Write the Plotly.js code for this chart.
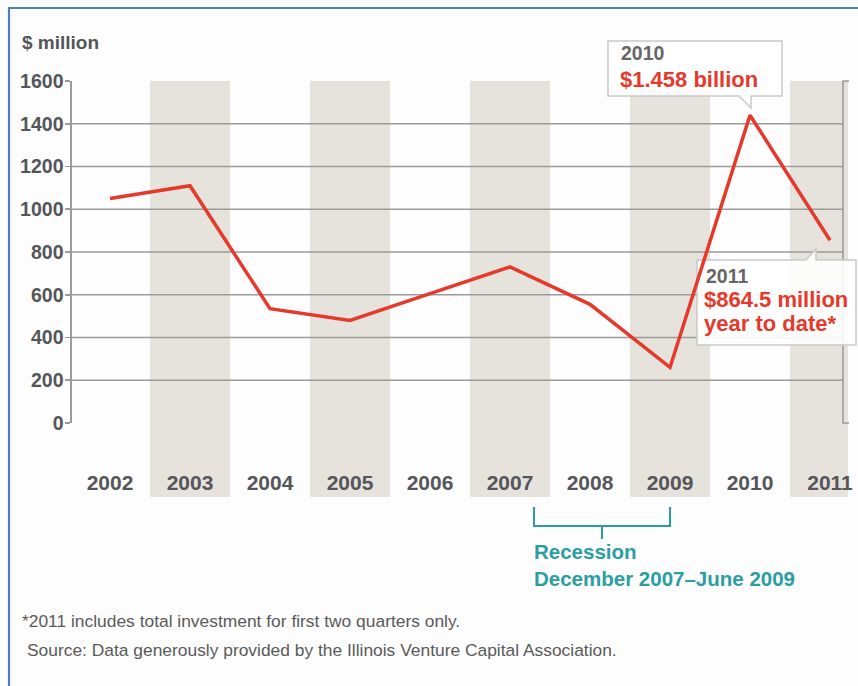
<!DOCTYPE html>
<html>
<head>
<meta charset="utf-8">
<script src="https://cdn.plot.ly/plotly-3.0.1.min.js"></script>
<style>
  html, body { margin: 0; padding: 0; background: #fdfdfd; }
  #chart { width: 858px; height: 686px; }
</style>
</head>
<body>
<div id="chart"></div>
<script>
// ---------- data ----------
const years = [2002, 2003, 2004, 2005, 2006, 2007, 2008, 2009, 2010, 2011];
const investment = [1050, 1110, 535, 480, 605, 730, 555, 260, 1440, 855]; // $ million
const shadedYears = [2003, 2005, 2007, 2009, 2011];
const gridValues = [200, 400, 600, 800, 1000, 1200, 1400];
const yTicks = [0, 200, 400, 600, 800, 1000, 1200, 1400, 1600];
const recessionStart = 2007.3;   // December 2007 (bracket start)
const recessionEnd = 2009.0;     // June 2009 (bracket end)

// ---------- layout helpers ----------
const W = 858, H = 686;
const L = 72, R = 10, T = 81, B = 263;
const PW = W - L - R, PH = H - T - B;
const xp = px => (px - L) / PW;
const yp = py => (T + PH - py) / PH;

const RED = '#e5392c';
const GRAY_TXT = '#55565a';
const TEAL = '#2b9ea2';
const FONT = 'Liberation Sans, Arial, sans-serif';

const shapes = [];

// shaded year columns
shadedYears.forEach(yr => shapes.push({
  type: 'rect', xref: 'x', yref: 'paper', layer: 'below',
  x0: yr - 0.5, x1: yr + 0.5, y0: yp(497), y1: 1,
  fillcolor: '#e6e3dc', line: { width: 0 }
}));

// horizontal grid lines
gridValues.forEach(v => shapes.push({
  type: 'line', xref: 'paper', yref: 'y', layer: 'below',
  x0: 0, x1: xp(843), y0: v, y1: v,
  line: { color: '#9b9b9b', width: 1.6 }
}));

// right bracket line
shapes.push({
  type: 'path', xref: 'paper', yref: 'paper', layer: 'below',
  path: `M${xp(849)},1 L${xp(843)},1 L${xp(843)},0 L${xp(849)},0`,
  line: { color: '#9b9b9b', width: 1.6 }
});

// callout 2010
shapes.push({
  type: 'path', xref: 'paper', yref: 'paper', layer: 'above',
  path: `M${xp(608)},${yp(41)} L${xp(782)},${yp(41)} L${xp(782)},${yp(96)} L${xp(751)},${yp(96)} L${xp(751)},${yp(108)} L${xp(739)},${yp(96)} L${xp(608)},${yp(96)} Z`,
  fillcolor: 'rgba(255,255,255,0.85)', line: { color: '#c9c9c9', width: 1.5 }
});
// callout 2011
shapes.push({
  type: 'path', xref: 'paper', yref: 'paper', layer: 'below',
  path: `M${xp(697)},${yp(260)} L${xp(806)},${yp(260)} L${xp(816)},${yp(249)} L${xp(816)},${yp(260)} L${xp(856)},${yp(260)} L${xp(856)},${yp(345)} L${xp(697)},${yp(345)} Z`,
  fillcolor: 'rgba(255,255,255,0.88)', line: { color: '#c9c9c9', width: 1.5 }
});

// recession bracket
const midRec = (recessionStart + recessionEnd) / 2;
shapes.push({
  type: 'path', xref: 'x', yref: 'paper',
  path: `M${recessionStart},${yp(507)} L${recessionStart},${yp(526)} L${recessionEnd},${yp(526)} L${recessionEnd},${yp(507)} M${midRec},${yp(526)} L${midRec},${yp(539)}`,
  line: { color: TEAL, width: 2 }
});

// outer blue frame
shapes.push({
  type: 'path', xref: 'paper', yref: 'paper',
  path: `M${xp(9)},${yp(690)} L${xp(9)},${yp(8)} L${xp(862)},${yp(8)}`,
  line: { color: '#4f7fbf', width: 2.2 }
});

const annotations = [
  { text: '$ million', x: xp(20), y: yp(42), xanchor: 'left', yanchor: 'middle',
    font: { family: FONT, size: 19, color: GRAY_TXT, weight: 'bold' } },
  { text: '2010', x: xp(619), y: yp(53), xanchor: 'left', yanchor: 'middle',
    font: { family: FONT, size: 19.5, color: '#666666', weight: 'bold' } },
  { text: '$1.458 billion', x: xp(618), y: yp(79), xanchor: 'left', yanchor: 'middle',
    font: { family: FONT, size: 22, color: RED, weight: 'bold' } },
  { text: '2011', x: xp(704), y: yp(276), xanchor: 'left', yanchor: 'middle',
    font: { family: FONT, size: 19.5, color: '#666666', weight: 'bold' } },
  { text: '$864.5 million', x: xp(702), y: yp(299), xanchor: 'left', yanchor: 'middle',
    font: { family: FONT, size: 22, color: RED, weight: 'bold' } },
  { text: 'year to date*', x: xp(702), y: yp(323), xanchor: 'left', yanchor: 'middle',
    font: { family: FONT, size: 22, color: RED, weight: 'bold' } },
  { text: 'Recession', x: xp(532), y: yp(551), xanchor: 'left', yanchor: 'middle',
    font: { family: FONT, size: 20.5, color: TEAL, weight: 'bold' } },
  { text: 'December 2007\u2013June 2009', x: xp(532), y: yp(578), xanchor: 'left', yanchor: 'middle',
    font: { family: FONT, size: 20.5, color: TEAL, weight: 'bold' } },
  { text: '*2011 includes total investment for first two quarters only.', x: xp(20), y: yp(621),
    xanchor: 'left', yanchor: 'middle', font: { family: FONT, size: 17.4, color: '#5a5a5a' } },
  { text: 'Source: Data generously provided by the Illinois Venture Capital Association.', x: xp(25), y: yp(650),
    xanchor: 'left', yanchor: 'middle', font: { family: FONT, size: 17.4, color: '#5a5a5a' } }
].map(a => Object.assign({ xref: 'paper', yref: 'paper', showarrow: false }, a));

const trace = {
  x: years, y: investment, type: 'scatter', mode: 'lines',
  line: { color: RED, width: 3.5 }, hoverinfo: 'skip', cliponaxis: false
};

const layout = {
  width: W, height: H,
  margin: { l: L, r: R, t: T, b: B, pad: 0 },
  paper_bgcolor: '#fdfdfd', plot_bgcolor: 'rgba(0,0,0,0)',
  showlegend: false,
  font: { family: FONT },
  xaxis: {
    range: [years[0] - 0.475, years[years.length - 1] + 0.225],
    tickvals: years, ticktext: years.map(String),
    showgrid: false, zeroline: false, showline: false, ticks: '',
    ticklabelstandoff: 45,
    tickfont: { family: FONT, size: 21, color: GRAY_TXT, weight: 'bold' },
    fixedrange: true
  },
  yaxis: {
    range: [0, 1600], tickvals: yTicks,
    showgrid: false, zeroline: false,
    showline: true, linecolor: '#9b9b9b', linewidth: 1.6,
    ticks: 'outside', ticklen: 5, tickcolor: '#9b9b9b', tickwidth: 1.6,
    tickfont: { family: FONT, size: 19.5, color: GRAY_TXT, weight: 'bold' },
    ticklabelstandoff: -2,
    fixedrange: true
  },
  shapes: shapes,
  annotations: annotations
};

Plotly.newPlot('chart', [trace], layout, { displayModeBar: false, staticPlot: true });
</script>
</body>
</html>
